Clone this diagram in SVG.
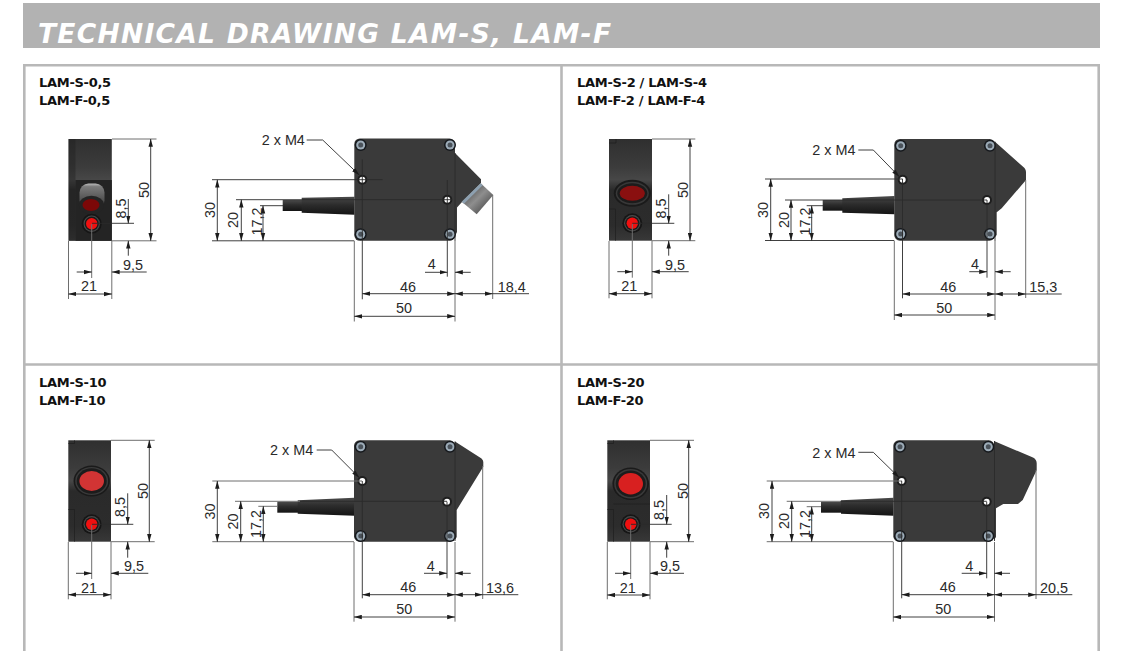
<svg xmlns="http://www.w3.org/2000/svg" xmlns:xlink="http://www.w3.org/1999/xlink" width="1124" height="651" viewBox="0 0 1124 651">
<style>
text{font-family:"Liberation Sans",Arial,sans-serif;font-size:14.4px;fill:#2a2a2a}
.m{text-anchor:middle}
.lab{font-family:"DejaVu Sans",sans-serif;font-weight:bold;font-size:13px;letter-spacing:-.3px;fill:#111}
.title{font-family:"DejaVu Sans",sans-serif;font-weight:bold;font-style:italic;font-size:26.5px;fill:#fff}
.panel{fill:none;stroke:#b8b8b8;stroke-width:2.6}
.body{fill:#3a3a3a}
.tab{fill:none;stroke:#1e1e1e;stroke-width:.7}
.d{fill:none;stroke:#2a2a2a;stroke-width:.9}
.e{fill:none;stroke:#6e6e6e;stroke-width:1}
.a{marker-end:url(#ar)}
.aa{marker-start:url(#ar);marker-end:url(#ar)}
</style>
<defs>
<marker id="ar" markerUnits="userSpaceOnUse" markerWidth="8" markerHeight="5" refX="7.8" refY="2.5" orient="auto-start-reverse"><path d="M0 .3L8 2.500L0 4.700z" fill="#1c1c1c"/></marker>
<linearGradient id="fb" x1="0" y1="0" x2="0" y2="1"><stop offset="0" stop-color="#2f2f2f"/><stop offset=".28" stop-color="#3c3c3c"/><stop offset=".4" stop-color="#474747"/><stop offset=".5" stop-color="#2a2a2a"/><stop offset=".85" stop-color="#2c2c2c"/><stop offset="1" stop-color="#383838"/></linearGradient>
<linearGradient id="cb" x1="0" y1="0" x2="0" y2="1"><stop offset="0" stop-color="#4a4a4a"/><stop offset=".45" stop-color="#2c2c2c"/><stop offset="1" stop-color="#141414"/></linearGradient>
<linearGradient id="cn" x1="0" y1="0" x2="1" y2="1"><stop offset="0" stop-color="#303030"/><stop offset=".5" stop-color="#8e8e8e"/><stop offset="1" stop-color="#303030"/></linearGradient>
<linearGradient id="cy" x1="0" y1="0" x2="0" y2="1"><stop offset="0" stop-color="#bdbdbd"/><stop offset=".12" stop-color="#7c7c7c"/><stop offset=".55" stop-color="#585858"/><stop offset="1" stop-color="#333"/></linearGradient>
<g id="screw"><circle r="6" fill="#15181c"/><circle r="4.500" fill="#9dacb8"/><circle r="2.500" fill="#4a525a"/></g>
<g id="hole"><circle r="5" fill="#1e1e1e"/><circle r="3" fill="#fff"/></g>
<g id="ind"><circle r="10" fill="#161616"/><circle r="8.200" fill="#4a4a4a"/><circle r="7.100" fill="#1a1a1a"/><circle r="5.700" fill="#f01010"/></g>
<g id="lens"><ellipse rx="18.200" ry="15.500" fill="#1a1a1a"/><ellipse rx="16.500" ry="14" fill="#3a3a3a"/><ellipse rx="15" ry="12.700" fill="#1c1c1c"/><ellipse rx="12.300" ry="10" fill="#d23434"/></g>
</defs>

<rect id="header" x="23" y="3" width="1077" height="45" fill="#b2b2b2"/>
<text class="title" x="38" y="43" textLength="573" lengthAdjust="spacing">TECHNICAL DRAWING LAM-S, LAM-F</text>
<path id="frame" class="panel" d="M24.300 652V65.300H1098.700V652M561.500 65.300V652M24.300 364.500H1098.700"/>

<g id="model-labels">
<text class="lab" x="39" y="87">LAM-S-0,5</text><text class="lab" x="39" y="105">LAM-F-0,5</text>
<text class="lab" x="577" y="87">LAM-S-2 / LAM-S-4</text><text class="lab" x="577" y="105">LAM-F-2 / LAM-F-4</text>
<text class="lab" x="39" y="387">LAM-S-10</text><text class="lab" x="39" y="405">LAM-F-10</text>
<text class="lab" x="577" y="387">LAM-S-20</text><text class="lab" x="577" y="405">LAM-F-20</text>
</g>

<g id="front-1">
<rect x="68.500" y="139" width="43.300" height="101.800" fill="url(#fb)"/>
<rect x="68.500" y="139" width="7" height="101.800" fill="#1f1f1f" opacity=".4"/>
<rect x="75.500" y="180" width="36.300" height="60.800" fill="#242424"/>
<rect x="79.500" y="183.500" width="25" height="26" rx="9" fill="url(#cy)"/>
<ellipse cx="91.500" cy="205" rx="12.600" ry="9.200" fill="#242424"/>
<ellipse cx="91" cy="205" rx="8.500" ry="6" fill="#7c0808"/>
<use xlink:href="#ind" href="#ind" x="91.700" y="223.700"/>
</g>
<g id="side-1">
<path class="body" d="M455 153L481 179.300V183L462 202L457 207.500V232L455 236z"/>
<path d="M480.700 183.300L493.300 195L476.700 214.300L461.700 201.700z" fill="url(#cn)"/>
<path d="M480.700 183.300L461.700 201.700L464 203.700L482.700 185.200z" fill="#8da0b0"/>
<path d="M282.700 200H302V211H282.700z" fill="url(#cb)"/>
<path d="M301.700 197.700L354.500 196.700V214.700L301.700 212.700z" fill="url(#cb)"/>
<rect class="body" x="354.300" y="138.500" width="100.700" height="102.300" rx="5.500"/>
<use xlink:href="#screw" href="#screw" x="360.700" y="145"/><use xlink:href="#screw" href="#screw" x="450" y="145"/>
<use xlink:href="#screw" href="#screw" x="360.700" y="234.300"/><use xlink:href="#screw" href="#screw" x="450" y="234.300"/>
<use xlink:href="#hole" href="#hole" x="362.300" y="179.700"/><use xlink:href="#hole" href="#hole" x="447.300" y="199.700"/>
</g>

<g id="front-2">
<rect x="609" y="139" width="43" height="101.700" fill="url(#fb)"/>
<path class="tab" d="M609 143H616V139M609 209H615.500V240.700"/>
<g transform="translate(632.300 193.300)"><ellipse rx="18.500" ry="13.500" fill="#1a1a1a"/><ellipse rx="16.500" ry="11.500" fill="#383838"/><ellipse rx="15" ry="10" fill="#1c1c1c"/><ellipse rx="12.500" ry="7.500" fill="#8a1010"/></g>
<use xlink:href="#ind" href="#ind" x="632.300" y="223.300"/>
</g>
<g id="side-2">
<path class="body" d="M995 141.700L1024.500 168Q1026 170 1026 172V180L1001.700 208.300L996.700 212.300V235L995 237z"/>
<path d="M822.700 200H843V210.700H822.700z" fill="url(#cb)"/>
<path d="M842.300 198.300L894.500 196V214.300L842.300 212.700z" fill="url(#cb)"/>
<rect class="body" x="894.300" y="139" width="100.700" height="101.700" rx="5.500"/>
<use xlink:href="#screw" href="#screw" x="900.700" y="145.700"/><use xlink:href="#screw" href="#screw" x="990" y="145.700"/>
<use xlink:href="#screw" href="#screw" x="900.700" y="234"/><use xlink:href="#screw" href="#screw" x="990" y="234"/>
<use xlink:href="#hole" href="#hole" x="902.700" y="179.700"/><use xlink:href="#hole" href="#hole" x="987" y="200"/>
</g>

<g id="front-3">
<rect x="68.300" y="440.300" width="42.700" height="101.400" fill="url(#fb)"/>
<path class="tab" d="M68.300 443.500H74.500V440.300M68.300 509.500H74.500V541.700"/>
<use xlink:href="#lens" href="#lens" x="91.700" y="481"/>
<use xlink:href="#ind" href="#ind" x="91.700" y="524.300"/>
</g>
<g id="side-3">
<path class="body" d="M455 441.500L481.500 458.500Q483.300 460 483.300 462V466.700L456.700 510V537L455 540z"/>
<path d="M277.300 501.700H298V512.700H277.300z" fill="url(#cb)"/>
<path d="M297.700 500.300L354.500 497.700V515.700L297.700 513.700z" fill="url(#cb)"/>
<rect class="body" x="354" y="440.300" width="101" height="101.400" rx="5.500"/>
<use xlink:href="#screw" href="#screw" x="360.700" y="446.700"/><use xlink:href="#screw" href="#screw" x="450" y="446.700"/>
<use xlink:href="#screw" href="#screw" x="360.700" y="536"/><use xlink:href="#screw" href="#screw" x="450" y="536"/>
<use xlink:href="#hole" href="#hole" x="362.300" y="481"/><use xlink:href="#hole" href="#hole" x="447" y="501.700"/>
</g>

<g id="front-4">
<rect x="607.300" y="440.300" width="42.700" height="101.400" fill="url(#fb)"/>
<path class="tab" d="M607.300 443.500H613.500V440.300M607.300 509.500H613.500V541.700M613.500 504H650"/>
<g transform="translate(630.700 483.700)"><ellipse rx="18.300" ry="16.300" fill="#1a1a1a"/><ellipse rx="16.500" ry="14.800" fill="#3a3a3a"/><ellipse rx="15" ry="13.300" fill="#1c1c1c"/><ellipse rx="12.300" ry="10.700" fill="#d82020"/></g>
<use xlink:href="#ind" href="#ind" x="630.700" y="524.300"/>
</g>
<g id="side-4">
<path class="body" d="M994 441L1033 457.500Q1036.700 459.500 1036.700 463.300V470L1022.700 500L1018 504H1003.300L996 508.300V537L994 540z"/>
<path d="M821 501.700H841.500V512.700H821z" fill="url(#cb)"/>
<path d="M841 500.300L893.500 497.700V515.700L841 513.700z" fill="url(#cb)"/>
<rect class="body" x="893.300" y="440.300" width="101" height="101.400" rx="5.500"/>
<use xlink:href="#screw" href="#screw" x="900" y="446.700"/><use xlink:href="#screw" href="#screw" x="988.300" y="446.700"/>
<use xlink:href="#screw" href="#screw" x="900" y="536"/><use xlink:href="#screw" href="#screw" x="988.300" y="536"/>
<use xlink:href="#hole" href="#hole" x="901.700" y="481"/><use xlink:href="#hole" href="#hole" x="986.700" y="501.700"/>
</g>

<g id="connectors">
<path class="e" d="M112 139H156.500M112 240.800H156.500M68.500 241V299M111.800 241V299M91.700 224V278"/>
<line class="d aa" x1="150.700" y1="139" x2="150.700" y2="240.800"/>
<path class="d" d="M92 223.300H134"/>
<line class="d a" x1="128.300" y1="199" x2="128.300" y2="223.300"/><line class="d a" x1="128.300" y1="255.700" x2="128.300" y2="240.800"/>
<line class="d a" x1="76.700" y1="272" x2="91.700" y2="272"/><line class="d a" x1="146.700" y1="272" x2="111.800" y2="272"/>
<line class="d aa" x1="68.500" y1="294" x2="111.800" y2="294"/>
<path class="d" d="M212 179.700H382.700M212 240.800H354.300M236 199.700H452M260 205.700H283M362.300 159.300V299.300M447.300 180V276.700M455 153V241"/>
<path class="e" d="M354.300 241V321.500M455 241V321.500M492.700 195V299"/>
<line class="d aa" x1="217.300" y1="179.700" x2="217.300" y2="240.800"/>
<line class="d aa" x1="241.300" y1="199.700" x2="241.300" y2="240.800"/>
<line class="d aa" x1="263" y1="205.700" x2="263" y2="240.800"/>
<line class="d a" x1="425" y1="272.300" x2="447.300" y2="272.300"/><line class="d a" x1="470.700" y1="272.300" x2="455" y2="272.300"/>
<line class="d aa" x1="362.300" y1="293.700" x2="455" y2="293.700"/>
<line class="d aa" x1="455" y1="293.700" x2="492.700" y2="293.700"/><path class="d" d="M492.700 293.700H529"/>
<line class="d aa" x1="354.300" y1="316.300" x2="455" y2="316.300"/>
<path class="d a" d="M306.700 140H322.700L359.300 175"/>

<path class="e" d="M652 139H695.300M652 240.700H695.300M609 241V298.300M652 241V298.300M632.300 224V277.700"/>
<line class="d aa" x1="690" y1="139" x2="690" y2="240.700"/>
<path class="d" d="M632.300 223.300H674.300"/>
<line class="d a" x1="668.700" y1="194.300" x2="668.700" y2="223.300"/><line class="d a" x1="668.700" y1="255.700" x2="668.700" y2="240.700"/>
<line class="d a" x1="617.300" y1="271.700" x2="632.300" y2="271.700"/><line class="d a" x1="688.700" y1="271.700" x2="652" y2="271.700"/>
<line class="d aa" x1="609" y1="293.700" x2="652" y2="293.700"/>
<path class="d" d="M765 179H902.700M765 240.500H894.300M785 200H987M806.700 205.700H823M902.500 179V298.300M987 200V277.700M995 141.700V241"/>
<path class="e" d="M894.300 241V320M995 241V320M1025.700 180V298"/>
<line class="d aa" x1="770.700" y1="179" x2="770.700" y2="240.500"/>
<line class="d aa" x1="791" y1="200" x2="791" y2="240.500"/>
<line class="d aa" x1="811.700" y1="205.700" x2="811.700" y2="240.500"/>
<line class="d a" x1="969.300" y1="271.700" x2="987" y2="271.700"/><line class="d a" x1="1010.700" y1="271.700" x2="995" y2="271.700"/>
<line class="d aa" x1="902.500" y1="294" x2="995" y2="294"/>
<line class="d aa" x1="995" y1="294" x2="1025.700" y2="294"/><path class="d" d="M1025.700 294H1061.700"/>
<line class="d aa" x1="894.300" y1="315" x2="995" y2="315"/>
<path class="d a" d="M858.300 150H873.300L899.300 176.700"/>

<path class="e" d="M111 440.300H154.700M111 541.700H154.700M68.300 542V599.300M111 542V599.300M91.700 525V579"/>
<line class="d aa" x1="149.300" y1="440.300" x2="149.300" y2="541.700"/>
<path class="d" d="M92 524.300H133.300"/>
<line class="d a" x1="127.700" y1="493.300" x2="127.700" y2="524.300"/><line class="d a" x1="127.700" y1="557.700" x2="127.700" y2="541.700"/>
<line class="d a" x1="76" y1="573.300" x2="91.700" y2="573.300"/><line class="d a" x1="148.300" y1="573.300" x2="111" y2="573.300"/>
<line class="d aa" x1="68.300" y1="594.700" x2="111" y2="594.700"/>
<path class="e" d="M212.300 481H362M212.300 541.700H354M235 501.300H300M258.300 506.300H277.300M354 542V621.700M455 542V621.700M482.700 466V599"/>
<path class="d" d="M300 501.300H447M362.300 481V598.300M447 501.700V578.300M455 441.500V541"/>
<line class="d aa" x1="217.300" y1="481" x2="217.300" y2="541.700"/>
<line class="d aa" x1="240.700" y1="501.300" x2="240.700" y2="541.700"/>
<line class="d aa" x1="263.300" y1="506.300" x2="263.300" y2="541.700"/>
<line class="d a" x1="424" y1="573.300" x2="447" y2="573.300"/><line class="d a" x1="470.700" y1="573.300" x2="455" y2="573.300"/>
<line class="d aa" x1="362.300" y1="594.700" x2="455" y2="594.700"/>
<line class="d aa" x1="455" y1="594.700" x2="482.700" y2="594.700"/><path class="d" d="M482.700 594.700H518.300"/>
<line class="d aa" x1="354" y1="617" x2="455" y2="617"/>
<path class="d a" d="M316.700 450H331.700L359.300 477.700"/>

<path class="e" d="M650 440.300H694M650 541.700H694M607.300 542V599.300M650 542V599.300M630.700 525V579"/>
<line class="d aa" x1="688.700" y1="440.300" x2="688.700" y2="541.700"/>
<path class="d" d="M631 524.300H671.700"/>
<line class="d a" x1="666.700" y1="495" x2="666.700" y2="524.300"/><line class="d a" x1="666.700" y1="557.700" x2="666.700" y2="541.700"/>
<line class="d a" x1="615" y1="573.300" x2="630.700" y2="573.300"/><line class="d a" x1="684" y1="573.300" x2="650" y2="573.300"/>
<line class="d aa" x1="607.300" y1="595" x2="650" y2="595"/>
<path class="e" d="M766.700 481H902M766.700 541.700H893.300M786.700 501.300H840M806.700 506.700H821M893.300 542V621.700M994.500 542V621.700M1036 470V599"/>
<path class="d" d="M840 501.300H986.700M901.700 481V598.300M986.700 501.700V578.300M994.500 441V541"/>
<line class="d aa" x1="772" y1="481" x2="772" y2="541.700"/>
<line class="d aa" x1="791.700" y1="501.300" x2="791.700" y2="541.700"/>
<line class="d aa" x1="811.700" y1="506.700" x2="811.700" y2="541.700"/>
<line class="d a" x1="961.700" y1="573.300" x2="986.700" y2="573.300"/><line class="d a" x1="1010" y1="573.300" x2="994.500" y2="573.300"/>
<line class="d aa" x1="901.700" y1="594.700" x2="994.500" y2="594.700"/>
<line class="d aa" x1="994.500" y1="594.700" x2="1036" y2="594.700"/><path class="d" d="M1036 594.700H1072.300"/>
<line class="d aa" x1="893.300" y1="617" x2="994.500" y2="617"/>
<path class="d a" d="M858.300 452.300H873.300L899.300 477.700"/>
</g>

<g id="dimension-labels">
<text class="m" transform="translate(149 190) rotate(-90)">50</text>
<text class="m" transform="translate(126 208.500) rotate(-90)">8,5</text>
<text class="m" x="133" y="270">9,5</text>
<text class="m" x="89" y="291">21</text>
<text class="m" transform="translate(215 210) rotate(-90)">30</text>
<text class="m" transform="translate(238 220) rotate(-90)">20</text>
<text class="m" transform="translate(261.500 221.500) rotate(-90)">17,2</text>
<text x="261.700" y="144.700">2 x M4</text>
<text class="m" x="431.700" y="269">4</text>
<text class="m" x="408" y="291.500">46</text>
<text class="m" x="511.700" y="291.500">18,4</text>
<text class="m" x="404" y="313">50</text>

<text class="m" transform="translate(688 190) rotate(-90)">50</text>
<text class="m" transform="translate(666 208.500) rotate(-90)">8,5</text>
<text class="m" x="675" y="270">9,5</text>
<text class="m" x="629.300" y="291">21</text>
<text class="m" transform="translate(768 210) rotate(-90)">30</text>
<text class="m" transform="translate(788.500 220) rotate(-90)">20</text>
<text class="m" transform="translate(810 221.500) rotate(-90)">17,2</text>
<text x="812.300" y="155">2 x M4</text>
<text class="m" x="975" y="269">4</text>
<text class="m" x="948.300" y="291.500">46</text>
<text class="m" x="1043.300" y="291.500">15,3</text>
<text class="m" x="944.300" y="312.500">50</text>

<text class="m" transform="translate(148 491) rotate(-90)">50</text>
<text class="m" transform="translate(125 507) rotate(-90)">8,5</text>
<text class="m" x="134" y="571">9,5</text>
<text class="m" x="89" y="592.500">21</text>
<text class="m" transform="translate(215 511.500) rotate(-90)">30</text>
<text class="m" transform="translate(238 521.500) rotate(-90)">20</text>
<text class="m" transform="translate(261 524) rotate(-90)">17,2</text>
<text x="270" y="455">2 x M4</text>
<text class="m" x="430.700" y="570.700">4</text>
<text class="m" x="408.300" y="592">46</text>
<text class="m" x="500" y="592.500">13,6</text>
<text class="m" x="404.300" y="613.700">50</text>

<text class="m" transform="translate(687.500 491) rotate(-90)">50</text>
<text class="m" transform="translate(664 510) rotate(-90)">8,5</text>
<text class="m" x="670" y="570.500">9,5</text>
<text class="m" x="627.700" y="592.500">21</text>
<text class="m" transform="translate(769 511) rotate(-90)">30</text>
<text class="m" transform="translate(788.500 521) rotate(-90)">20</text>
<text class="m" transform="translate(809.500 524) rotate(-90)">17,2</text>
<text x="812.300" y="457.700">2 x M4</text>
<text class="m" x="969.300" y="570.700">4</text>
<text class="m" x="947.700" y="592">46</text>
<text class="m" x="1054" y="593">20,5</text>
<text class="m" x="943.300" y="613.700">50</text>
</g>
</svg>
